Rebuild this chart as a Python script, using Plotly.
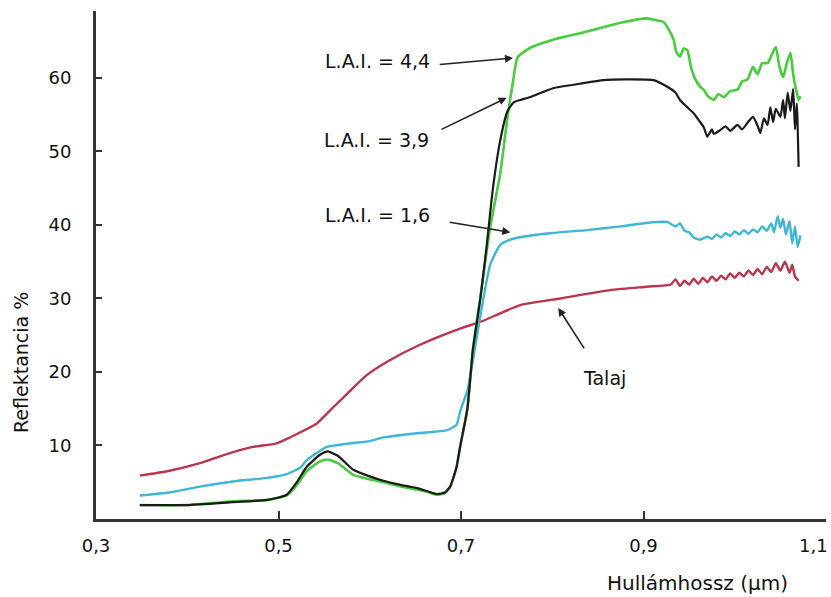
import plotly.graph_objects as go

# ---------------- data ----------------
talaj_x = [0.348, 0.378, 0.414, 0.44, 0.472, 0.498, 0.524, 0.542, 0.560, 0.579, 0.597, 0.619,
           0.655, 0.699, 0.721, 0.765, 0.809, 0.867, 0.904, 0.930, 0.935, 0.940, 0.945, 0.950,
           0.955, 0.960, 0.965, 0.970, 0.975, 0.980, 0.985, 0.990, 0.995, 1.000, 1.005, 1.010,
           1.015, 1.020, 1.025, 1.030, 1.035, 1.040, 1.045, 1.050, 1.055, 1.060, 1.063, 1.066, 1.070]
talaj_y = [5.9, 6.5, 7.6, 8.7, 9.8, 10.3, 11.8, 13.0, 15.2, 17.5, 19.6, 21.4,
           23.7, 25.9, 26.8, 29.1, 30.0, 31.2, 31.6, 31.9, 32.6, 31.7, 32.4, 31.9,
           32.7, 32.0, 32.8, 32.2, 33.0, 32.4, 33.1, 32.6, 33.4, 32.8, 33.5, 33.0,
           33.8, 33.2, 34.0, 33.3, 34.3, 33.6, 34.8, 33.8, 35.0, 33.5, 34.6, 33.0, 32.4]

lai16_x = [0.348, 0.38, 0.414, 0.45, 0.488, 0.509, 0.524, 0.531, 0.553, 0.579, 0.60, 0.615,
           0.633, 0.655, 0.685, 0.695, 0.699, 0.707, 0.713, 0.721, 0.732, 0.743, 0.754, 0.768,
           0.80, 0.838, 0.875, 0.905, 0.926, 0.935, 0.94, 0.945, 0.95, 0.955, 0.962, 0.97,
           0.975, 0.98, 0.985, 0.99, 0.995, 1.0, 1.005, 1.01, 1.015, 1.02, 1.025, 1.03, 1.035,
           1.04, 1.043, 1.047, 1.05, 1.053, 1.056, 1.06, 1.063, 1.066, 1.069, 1.072]
lai16_y = [3.2, 3.6, 4.4, 5.1, 5.6, 6.1, 7.0, 8.0, 9.8, 10.3, 10.6, 11.1,
           11.4, 11.7, 12.1, 12.8, 14.6, 17.5, 21.5, 27.5, 34.6, 37.3, 38.0, 38.4,
           38.9, 39.3, 39.8, 40.3, 40.4, 39.8, 40.2, 39.2, 39.0, 38.3, 38.0, 38.4,
           38.1, 38.7, 38.3, 38.9, 38.5, 39.1, 38.7, 39.3, 38.8, 39.4, 39.0, 39.8, 39.2,
           40.2, 39.0, 41.2, 39.6, 40.8, 38.7, 40.5, 37.5, 39.8, 37.0, 38.6]

lai39_x = [0.348, 0.40, 0.45, 0.488, 0.509, 0.520, 0.531, 0.545, 0.554, 0.565, 0.582, 0.60,
           0.615, 0.635, 0.652, 0.665, 0.674, 0.682, 0.688, 0.695, 0.699, 0.707, 0.713, 0.721,
           0.728, 0.735, 0.743, 0.751, 0.758, 0.765, 0.776, 0.801, 0.83, 0.856, 0.88, 0.911,
           0.926, 0.935, 0.940, 0.948, 0.955, 0.962, 0.966, 0.970, 0.975, 0.977, 0.984, 0.99,
           0.995, 1.003, 1.008, 1.014, 1.020, 1.025, 1.028, 1.032, 1.036, 1.039, 1.042, 1.045,
           1.050, 1.053, 1.055, 1.058, 1.061, 1.064, 1.066, 1.068, 1.070]
lai39_y = [1.9, 1.9, 2.3, 2.6, 3.3, 5.0, 7.1, 8.7, 9.2, 8.6, 6.7, 5.8,
           5.2, 4.6, 4.2, 3.7, 3.4, 3.6, 4.4, 7.0, 9.8, 15.0, 23.0, 29.8,
           37.0, 45.0, 51.5, 55.5, 56.7, 57.0, 57.4, 58.6, 59.2, 59.7, 59.8, 59.7,
           58.8, 58.0, 57.0, 56.0, 55.2, 54.0, 53.3, 52.0, 53.0, 52.4, 52.9, 53.4,
           52.8, 53.6, 53.0, 53.9, 54.7, 53.5, 52.5, 54.5, 53.6, 56.0, 54.0, 55.8,
           54.7, 57.0, 54.5, 58.0, 55.5, 58.5, 53.0, 56.5, 47.9]

lai44_x = [0.348, 0.40, 0.45, 0.488, 0.509, 0.520, 0.531, 0.545, 0.554, 0.565, 0.582, 0.60,
           0.615, 0.635, 0.652, 0.665, 0.674, 0.682, 0.688, 0.695, 0.699, 0.707, 0.713, 0.721,
           0.732, 0.743, 0.751, 0.757, 0.762, 0.776, 0.801, 0.838, 0.875, 0.904, 0.915, 0.922,
           0.928, 0.933, 0.936, 0.940, 0.944, 0.948, 0.952, 0.956, 0.962, 0.966, 0.970, 0.977,
           0.982, 0.988, 0.995, 1.003, 1.008, 1.014, 1.020, 1.025, 1.030, 1.036, 1.040, 1.045,
           1.049, 1.053, 1.057, 1.061, 1.064, 1.067, 1.070, 1.072]
lai44_y = [1.9, 1.9, 2.4, 2.6, 3.2, 4.6, 6.5, 7.8, 8.1, 7.6, 6.0, 5.4,
           5.0, 4.4, 4.0, 3.6, 3.3, 3.5, 4.3, 7.0, 9.8, 15.0, 23.0, 30.0,
           39.7, 47.0, 54.7, 59.5, 62.8, 64.1, 65.2, 66.3, 67.5, 68.1, 67.8, 67.6,
           66.5, 65.2, 63.5, 62.9, 64.0, 63.8, 61.5, 60.0, 58.8, 58.4, 57.6, 57.0,
           57.8, 57.4, 58.2, 58.4, 59.5, 59.8, 61.5, 60.5, 62.0, 62.0, 63.0, 64.2,
           61.5, 60.1, 62.0, 63.4, 60.5, 58.5, 57.0, 57.5]

x_tickvals = [0.3, 0.5, 0.7, 0.9, 1.1]
x_ticktext = ["0,3", "0,5", "0,7", "0,9", "1,1"]
y_tickvals = [10, 20, 30, 40, 50, 60]
y_ticktext = ["10", "20", "30", "40", "50", "60"]

# labels: (text, text_x, text_y, tail_x, tail_y, head_x, head_y)
labels = [
    ("L.A.I. = 4,4", 0.609, 62.3, 0.675, 61.8, 0.757, 62.7),
    ("L.A.I. = 3,9", 0.607, 51.6, 0.677, 52.9, 0.750, 57.3),
    ("L.A.I. = 1,6", 0.608, 41.4, 0.686, 40.4, 0.754, 39.0),
    ("Talaj", 0.857, 19.2, 0.836, 23.0, 0.8066, 28.7),
]

FONT = "DejaVu Sans"
INK = "#111111"

W, H = 831, 597
L, R, T, B = 96, 5, 11, 78
pw, ph = W - L - R, H - T - B

fig = go.Figure()
fig.add_trace(go.Scatter(x=talaj_x, y=talaj_y, mode="lines",
                         line=dict(color="#b8344f", width=2.4, shape="spline", smoothing=0.5),
                         name="Talaj"))
fig.add_trace(go.Scatter(x=lai16_x, y=lai16_y, mode="lines",
                         line=dict(color="#3fb6d6", width=2.4, shape="spline", smoothing=0.5),
                         name="L.A.I. = 1,6"))
fig.add_trace(go.Scatter(x=lai44_x, y=lai44_y, mode="lines",
                         line=dict(color="#46cc3c", width=2.6, shape="spline", smoothing=0.5),
                         name="L.A.I. = 4,4"))
fig.add_trace(go.Scatter(x=lai39_x, y=lai39_y, mode="lines",
                         line=dict(color="#1a1a1a", width=2.2, shape="spline", smoothing=0.5),
                         name="L.A.I. = 3,9"))

annotations = []
for text, tx, ty, ax, ay, hx, hy in labels:
    annotations.append(dict(x=tx, y=ty, xref="x", yref="y", text=text, showarrow=False,
                            xanchor="center", yanchor="middle",
                            font=dict(family=FONT, size=19, color=INK)))
    annotations.append(dict(x=hx, y=hy, xref="x", yref="y", ax=ax, ay=ay,
                            axref="x", ayref="y", text="", showarrow=True,
                            arrowhead=2, arrowsize=1, arrowwidth=1.6, arrowcolor="#222"))

annotations.append(dict(text="Reflektancia %", xref="paper", yref="paper",
                        x=(21 - L) / pw, y=(H - B - 363) / ph,
                        xanchor="center", yanchor="middle", showarrow=False, textangle=-90,
                        font=dict(family=FONT, size=19, color=INK)))
annotations.append(dict(text="Hullámhossz (µm)", xref="paper", yref="paper",
                        x=(697 - L) / pw, y=(H - B - 583) / ph,
                        xanchor="center", yanchor="middle", showarrow=False,
                        font=dict(family=FONT, size=20, color=INK)))

# the last x tick label sits against the right edge of the page (as in the reference)
last_label = x_ticktext[-1]
axis_ticktext = x_ticktext[:-1] + [""]
annotations.append(dict(text=last_label, xref="paper", yref="paper",
                        x=(830 - L) / pw, y=(H - B - 545) / ph,
                        xanchor="right", yanchor="middle", showarrow=False,
                        font=dict(family=FONT, size=18, color=INK)))

fig.update_layout(
    width=W, height=H,
    margin=dict(l=L, r=R, t=T, b=B, pad=0, autoexpand=False),
    paper_bgcolor="white", plot_bgcolor="white",
    showlegend=False,
    annotations=annotations,
    xaxis=dict(range=[0.3, 1.1], tickvals=x_tickvals, ticktext=axis_ticktext,
               automargin=False,
               showgrid=False, zeroline=False, showline=True, linewidth=3, linecolor="#333",
               ticks="inside", ticklen=8, tickwidth=2, tickcolor="#333",
               ticklabelstandoff=8,
               tickfont=dict(family=FONT, size=18, color=INK)),
    yaxis=dict(range=[0, 69.1], tickvals=y_tickvals, ticktext=y_ticktext,
               automargin=False,
               showgrid=False, zeroline=False, showline=True, linewidth=3, linecolor="#333",
               ticks="inside", ticklen=6, tickwidth=2, tickcolor="#333",
               ticklabelstandoff=18,
               tickfont=dict(family=FONT, size=18, color=INK)),
)

fig.write_html("out.html")
